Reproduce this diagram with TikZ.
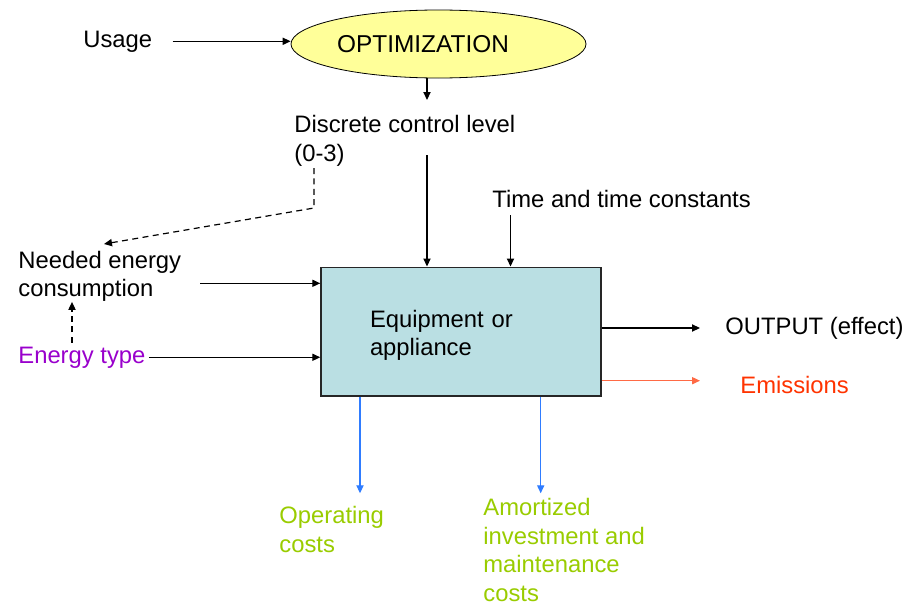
\documentclass[tikz,border=0pt]{standalone}
\usepackage{fontspec}
\setmainfont{Liberation Sans}
\usetikzlibrary{positioning}
\usetikzlibrary{shapes.geometric}
\usetikzlibrary{arrows.meta}

\definecolor{optyellow}{HTML}{FFFF99}
\definecolor{boxcyan}{HTML}{BADFE3}
\definecolor{typepurple}{HTML}{9900CC}
\definecolor{emisred}{HTML}{FF3300}
\definecolor{emisline}{HTML}{FF6A45}
\definecolor{costblue}{HTML}{2F7CFF}
\definecolor{costgreen}{HTML}{99CC00}

\begin{document}
\begin{tikzpicture}[x=0.5pt,y=-0.5pt,
  every node/.style={inner sep=0pt,font=\fontsize{11.9}{14.2}\selectfont},
  txt/.style={anchor=base west},
  mtxt/.style={anchor=north west,align=left},
  arr/.style={-{Triangle[length=4pt,width=3.6pt]},line width=0.6pt},
  dasharr/.style={arr,dash pattern=on 3pt off 2.2pt}]
\useasboundingbox (0,0) rectangle (910,605);

\node[ellipse,draw,fill=optyellow,minimum width=147.5pt,minimum height=34pt,
  font=\fontsize{12.2}{15}\selectfont] (opt) at (438.5,44) {OPTIMIZATION\kern15.5pt};
\node[txt] (usage) at (83,47) {Usage};
\node[mtxt] (ctrl) at (294,115) {Discrete control level\\(0-3)};
\node[txt] (time) at (492,207) {Time and time constants};
\node[mtxt] (need) at (18,250.5) {Needed energy\\consumption};
\node[txt,text=typepurple] (etype) at (18,363) {Energy type};
\node[draw=black!85,line width=0.75pt,fill=boxcyan,minimum width=140pt,
  minimum height=64.35pt,text width=91pt,align=left] (box) at (461,331.6)
  {\rule{0pt}{12.5pt}Equipment or\\appliance};
\node[txt] (output) at (725,334.3) {OUTPUT (effect)};
\node[txt,text=emisred] (emis) at (740,393) {Emissions};
\node[mtxt,text=costgreen] (opcost) at (279,506) {Operating\\costs};
\node[mtxt,text=costgreen] (amcost) at (483,498.3)
  {Amortized\\investment and\\maintenance\\costs};

% free ends of the connectors
\coordinate (ctrlin) at (427,100);
\coordinate (ctrlout) at (427,155);
\coordinate (timeout) at (510.5,215);
\coordinate (levelout) at (314,168);
\coordinate (needin) at (104,244);
\coordinate (needout) at (200,283.3);
\coordinate (typeup) at (72,342.7);
\coordinate (outtip) at (700,328);
\coordinate (emistip) at (700,380.7);
\coordinate (optip) at (360,493.3);
\coordinate (amtip) at (540.7,493.3);

\draw[arr] ([xshift=10pt]usage.east) -- (usage.east -| opt.west);
\draw[arr] (ctrlin |- opt.south) -- (ctrlin);
\draw[arr] (ctrlout) -- (ctrlout |- box.north);
\draw[arr] (timeout) -- (timeout |- box.north);
\draw[dasharr] (levelout) -- ++(0,40) -- (needin);
\draw[arr] (needout) -- (needout -| box.west);
\draw[dasharr] (typeup) -- (typeup |- need.south);
\draw[arr] ([xshift=1.5pt]etype.east) -- (etype.east -| box.west);
\draw[arr] (box.east |- outtip) -- (outtip);
\draw[arr,emisline] (box.east |- emistip) -- (emistip);
\draw[arr,costblue] (optip |- box.south) -- (optip);
\draw[arr,costblue] (amtip |- box.south) -- (amtip);
\end{tikzpicture}
\end{document}
